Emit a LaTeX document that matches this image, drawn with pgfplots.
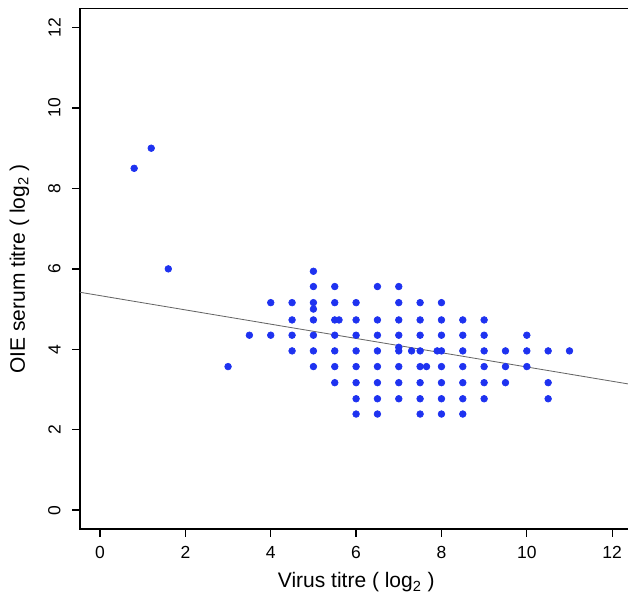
\documentclass[border=0pt]{standalone}
\usepackage{pgfplots}
\pgfplotsset{compat=1.18}
\usepackage{fontspec}
\setmainfont{Liberation Sans}
\definecolor{ptblue}{RGB}{30,50,240}
\begin{document}
\begin{tikzpicture}
\begin{axis}[
  name=ax,
  scale only axis,
  width=331.8pt, height=312.4pt,
  xmin=-0.47, xmax=12.48, ymin=-0.47, ymax=12.47,
  axis line style={line width=0.8pt, black},
  tick pos=left,
  tick align=outside,
  major tick length=4.5pt,
  major tick style={black, line width=0.8pt},
  xtick={0,2,...,12}, ytick={0,2,...,12},
  /pgf/number format/assume math mode=true,
  tick label style={font=\fontsize{10.5}{12}\selectfont},
  yticklabel style={rotate=90, anchor=south, inner sep=0pt},
  xticklabel style={anchor=north, inner sep=0pt},
  yticklabel shift=6.9pt,
  xticklabel shift=5.5pt,
  xlabel={Virus titre ( log\textsubscript{2} )},
  ylabel={OIE serum titre ( log\textsubscript{2} )},
  label style={font=\fontsize{12.6}{14}\selectfont},
  xlabel style={at={(axis description cs:0.5,0)}, anchor=base, yshift=-35.2pt, inner sep=0pt},
  ylabel style={at={(axis description cs:-0.0995,0.5)}, anchor=base, inner sep=0pt},
  clip=false,
]
\pgfplotsinvokeforeach{0,2,4,6,8,10,12}{
  \draw[black, line width=0.8pt] (axis cs:#1,-0.47) -- ++(0pt,-4.5pt);
  \draw[black, line width=0.8pt] (axis cs:-0.47,#1) -- ++(-4.5pt,0pt);
}
\addplot[gray!80!black, line width=0.5pt] coordinates {(-0.47,5.418) (12.48,3.12)};
\addplot[only marks, mark=*, mark size=2pt, ptblue, mark options={draw=ptblue, fill=ptblue}] coordinates {
(0.8,8.5) (1.2,9.0) (1.6,6.0)
(3,3.57)
(3.5,4.35)
(4,5.16) (4,4.35)
(4.5,5.16) (4.5,4.73) (4.5,4.35) (4.5,3.96)
(5,5.94) (5,5.56) (5,5.16) (5,5.0) (5,4.73) (5,4.35) (5,3.96) (5,3.57)
(5.5,5.56) (5.5,5.16) (5.5,4.73) (5.6,4.73) (5.5,4.35) (5.5,3.96) (5.5,3.57) (5.5,3.17)
(6,5.16) (6,4.73) (6,4.35) (6,3.96) (6,3.57) (6,3.17) (6,2.77) (6,2.39)
(6.5,5.56) (6.5,4.73) (6.5,4.35) (6.5,3.96) (6.5,3.57) (6.5,3.17) (6.5,2.77) (6.5,2.39)
(7,5.56) (7,5.16) (7,4.73) (7,4.35) (7,4.05) (7,3.96) (7,3.57) (7,3.17) (7,2.77)
(7.3,3.96)
(7.5,5.16) (7.5,4.73) (7.5,4.35) (7.5,3.96) (7.5,3.57) (7.65,3.57) (7.5,3.17) (7.5,2.77) (7.5,2.39)
(7.9,3.96)
(8,5.16) (8,4.73) (8,4.35) (8,3.96) (8,3.57) (8,3.17) (8,2.77) (8,2.39)
(8.5,4.73) (8.5,4.35) (8.5,3.96) (8.5,3.57) (8.5,3.17) (8.5,2.77) (8.5,2.39)
(9,4.73) (9,4.35) (9,3.96) (9,3.57) (9,3.17) (9,2.77)
(9.5,3.96) (9.5,3.57) (9.5,3.17)
(10,4.35) (10,3.96) (10,3.57)
(10.5,3.96) (10.5,3.17) (10.5,2.77)
(11,3.96)
};
\end{axis}
\pgfresetboundingbox
\path[use as bounding box] ([xshift=-48pt,yshift=-41.8pt]ax.south west) rectangle ([xshift=-2.8pt,yshift=5.2pt]ax.north east);
\end{tikzpicture}
\end{document}
